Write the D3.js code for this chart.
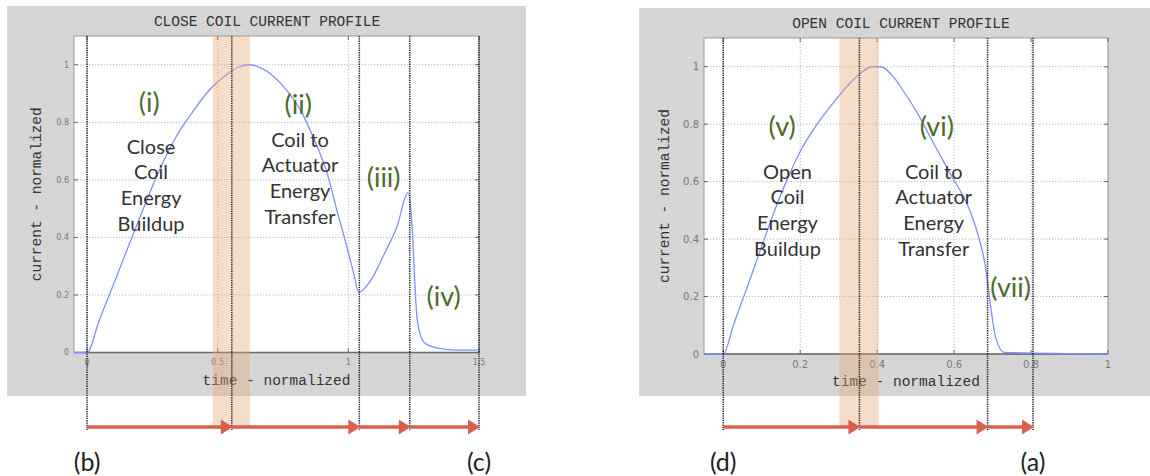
<!DOCTYPE html>
<html><head><meta charset="utf-8">
<script src="https://cdn.jsdelivr.net/npm/d3@7"></script>
<style>
html,body{margin:0;padding:0;background:#fff;}
svg{display:block;}
</style>
</head><body>
<svg id="c" width="1150" height="476"></svg>
<script>
// ---------- DATA ----------
const closeTitle = "CLOSE COIL CURRENT PROFILE";
const openTitle = "OPEN COIL CURRENT PROFILE";
const xLabel = "time - normalized";
const yLabel = "current - normalized";

const closeT = [-0.05, 0, 0.046, 0.097, 0.162, 0.213, 0.277, 0.341, 0.405, 0.469, 0.533, 0.585, 0.62, 0.674, 0.70, 0.751, 0.815, 0.867, 0.918, 0.956, 0.995, 1.021, 1.04, 1.085, 1.136, 1.187, 1.228, 1.245, 1.254, 1.264, 1.29, 1.341, 1.418, 1.5];
const closeI = [0, 0, 0.11, 0.227, 0.378, 0.494, 0.634, 0.75, 0.837, 0.913, 0.965, 0.994, 1.0, 0.985, 0.97, 0.925, 0.845, 0.745, 0.625, 0.495, 0.365, 0.273, 0.209, 0.25, 0.34, 0.44, 0.555, 0.423, 0.249, 0.11, 0.035, 0.015, 0.008, 0.008];

const openT = [-0.05, 0, 0.027, 0.062, 0.096, 0.131, 0.166, 0.2, 0.244, 0.287, 0.331, 0.365, 0.387, 0.409, 0.444, 0.47, 0.504, 0.548, 0.591, 0.635, 0.661, 0.682, 0.695, 0.708, 0.73, 1.0];
const openI = [0, 0, 0.103, 0.232, 0.36, 0.49, 0.607, 0.705, 0.8, 0.876, 0.945, 0.986, 1.0, 1.0, 0.962, 0.912, 0.84, 0.73, 0.625, 0.518, 0.42, 0.3, 0.165, 0.058, 0.006, 0.0];

const closeXTicks = [0, 0.5, 1, 1.5];
const closeXTickLabels = ["0", "0.5", "1", "1.5"];
const openXTicks = [0, 0.2, 0.4, 0.6, 0.8, 1];
const openXTickLabels = ["0", "0.2", "0.4", "0.6", "0.8", "1"];
const yTicks = [0, 0.2, 0.4, 0.6, 0.8, 1];
const yTickLabels = ["0", "0.2", "0.4", "0.6", "0.8", "1"];

const closeMarkers = [0, 0.554, 1.042, 1.235, 1.5];
const openMarkers = [0, 0.354, 0.687, 0.805];
const closeBand = [0.481, 0.623];
const openBand = [0.302, 0.404];

const closePhaseLabels = ["(i)", "(ii)", "(iii)", "(iv)"];
const closePhaseT = [0.238, 0.808, 1.135, 1.365];
const closePhaseI = [0.868, 0.861, 0.607, 0.193];
const closeTextBlocks = [["Close", "Coil", "Energy", "Buildup"], ["Coil to", "Actuator", "Energy", "Transfer"]];
const closeTextT = [0.245, 0.815];
const closeTextI = [0.715, 0.739];

const openPhaseLabels = ["(v)", "(vi)", "(vii)"];
const openPhaseT = [0.153, 0.555, 0.747];
const openPhaseI = [0.792, 0.792, 0.23];
const openTextBlocks = [["Open", "Coil", "Energy", "Buildup"], ["Coil to", "Actuator", "Energy", "Transfer"]];
const openTextT = [0.167, 0.547];
const openTextI = [0.634, 0.634];

const closeEndLabels = ["(b)", "(c)"];
const closeEndT = [0, 1.5];
const openEndLabels = ["(d)", "(a)"];
const openEndT = [0, 0.805];

// ---------- DRAW ----------
const svg = d3.select("#c");
const MONO = "'Liberation Mono','DejaVu Sans Mono',monospace";
const SANS = "Lato,'Open Sans',sans-serif";
const GREEN = "#4f6a2a";

function panel(o) {
  const g = svg.append("g");
  const x = d3.scaleLinear().domain(o.xDomain).range(o.xRange);
  const y = d3.scaleLinear().domain([0, 1.1]).range(o.yRange);
  const [x0, x1] = o.xRange, [yb, yt] = o.yRange;

  g.append("rect").attr("x", o.bg[0]).attr("y", o.bg[1]).attr("width", o.bg[2]).attr("height", o.bg[3]).attr("fill", "#d5d5d5");
  g.append("rect").attr("x", x0).attr("y", yt).attr("width", x1 - x0).attr("height", yb - yt).attr("fill", "#fff");

  g.selectAll(".gy").data(o.yTicks.filter(d => d > 0)).join("line")
    .attr("x1", x0).attr("x2", x1).attr("y1", d => y(d)).attr("y2", d => y(d))
    .attr("stroke", "#b5b5b5").attr("stroke-width", 1).attr("stroke-dasharray", "1.2,1.8");
  g.selectAll(".gx").data(o.xTicks).join("line")
    .attr("x1", d => x(d)).attr("x2", d => x(d)).attr("y1", yt).attr("y2", yb)
    .attr("stroke", "#b5b5b5").attr("stroke-width", 1).attr("stroke-dasharray", "1.2,1.8");

  g.append("rect").attr("x", x0).attr("y", yt).attr("width", x1 - x0).attr("height", yb - yt)
    .attr("fill", "none").attr("stroke", "#9a9a9a").attr("stroke-width", 1);
  g.append("line").attr("x1", x0).attr("x2", x1).attr("y1", yb).attr("y2", yb).attr("stroke", "#6a6a6a").attr("stroke-width", 1.6);

  const tl = 4;
  o.yTicks.forEach(d => {
    g.append("line").attr("x1", x0).attr("x2", x0 + tl).attr("y1", y(d)).attr("y2", y(d)).attr("stroke", "#666");
    g.append("line").attr("x1", x1).attr("x2", x1 - tl).attr("y1", y(d)).attr("y2", y(d)).attr("stroke", "#666");
  });
  o.xTicks.forEach(d => {
    g.append("line").attr("x1", x(d)).attr("x2", x(d)).attr("y1", yb).attr("y2", yb - tl).attr("stroke", "#666");
    g.append("line").attr("x1", x(d)).attr("x2", x(d)).attr("y1", yt).attr("y2", yt + tl).attr("stroke", "#666");
  });

  g.selectAll(".yl").data(o.yTicks).join("text")
    .attr("x", x0 - 5).attr("y", d => y(d)).attr("dy", "0.35em").attr("text-anchor", "end")
    .attr("font-family", "'DejaVu Sans',sans-serif").attr("font-size", o.tickFont).attr("fill", "#777")
    .text((d, i) => o.yTickLabels[i]);
  g.selectAll(".xl").data(o.xTicks).join("text")
    .attr("x", d => x(d)).attr("y", yb + o.tickFont + 4).attr("text-anchor", "middle")
    .attr("font-family", "'DejaVu Sans',sans-serif").attr("font-size", o.tickFont).attr("fill", "#777")
    .text((d, i) => o.xTickLabels[i]);

  g.append("text").attr("x", o.titleX).attr("y", yt - 10).attr("text-anchor", "middle")
    .attr("font-family", MONO).attr("font-size", 14.5).attr("fill", "#333").text(o.title);
  g.append("text").attr("x", (x0 + x1) / 2).attr("y", yb + 32).attr("text-anchor", "middle")
    .attr("font-family", MONO).attr("font-size", 14.5).attr("fill", "#333").text(xLabel);
  g.append("text").attr("transform", `translate(${o.yLabelX},${(yt + yb) / 2}) rotate(-90)`).attr("text-anchor", "middle")
    .attr("font-family", MONO).attr("font-size", 14.5).attr("fill", "#333").text(yLabel);

  const line = d3.line().x(d => x(d[0])).y(d => y(d[1])).curve(d3.curveMonotoneX);
  g.append("path").datum(o.t.map((t, i) => [t, o.v[i]])).attr("d", line)
    .attr("fill", "none").attr("stroke", "#7f8fff").attr("stroke-width", 1.3);

  const arrowY = 427;
  g.append("rect").attr("x", x(o.band[0])).attr("y", yt).attr("width", x(o.band[1]) - x(o.band[0])).attr("height", arrowY - yt)
    .attr("fill", "#e9a56f").attr("opacity", 0.38);

  g.selectAll(".mk").data(o.markers).join("line")
    .attr("x1", d => x(d)).attr("x2", d => x(d)).attr("y1", yt).attr("y2", arrowY + 3)
    .attr("stroke", "#222").attr("stroke-width", 1.5).attr("stroke-dasharray", "1.3,1");

  for (let i = 0; i < o.markers.length - 1; i++) {
    const a = x(o.markers[i]), b = x(o.markers[i + 1]);
    g.append("line").attr("x1", a).attr("x2", b - 8).attr("y1", arrowY).attr("y2", arrowY)
      .attr("stroke", "#d9604f").attr("stroke-width", 3.5);
    g.append("path").attr("d", `M${b + 1},${arrowY} L${b - 11},${arrowY - 7.5} L${b - 11},${arrowY + 7.5} Z`).attr("fill", "#d9604f");
  }

  g.selectAll(".ph").data(o.phaseLabels).join("text")
    .attr("x", (d, i) => x(o.phaseT[i])).attr("y", (d, i) => y(o.phaseI[i])).attr("dy", "0.35em")
    .attr("text-anchor", "middle").attr("font-family", SANS).attr("font-size", 27).attr("fill", GREEN).text(d => d);

  o.blocks.forEach((lines, bi) => {
    const t = g.append("text").attr("text-anchor", "middle").attr("font-family", SANS).attr("font-size", 20).attr("fill", "#333");
    lines.forEach((s, li) => {
      t.append("tspan").attr("x", x(o.blockT[bi])).attr("y", y(o.blockI[bi]) + li * 25.6).attr("dy", "0.35em").text(s);
    });
  });

  g.selectAll(".el").data(o.endLabels).join("text")
    .attr("x", (d, i) => x(o.endT[i])).attr("y", 471).attr("text-anchor", "middle")
    .attr("font-family", SANS).attr("font-size", 25).attr("fill", "#222").text(d => d);
}

panel({
  bg: [7, 6, 519, 390],
  xDomain: [-0.05, 1.5], xRange: [74, 479], yRange: [352.5, 36],
  xTicks: closeXTicks, xTickLabels: closeXTickLabels, yTicks: yTicks, yTickLabels: yTickLabels,
  tickFont: 8, title: closeTitle, titleX: 267, yLabelX: 41,
  t: closeT, v: closeI, band: closeBand, markers: closeMarkers,
  phaseLabels: closePhaseLabels, phaseT: closePhaseT, phaseI: closePhaseI,
  blocks: closeTextBlocks, blockT: closeTextT, blockI: closeTextI,
  endLabels: closeEndLabels, endT: closeEndT
});
panel({
  bg: [639, 8, 511, 388],
  xDomain: [-0.05, 1], xRange: [704, 1108], yRange: [354, 38],
  xTicks: openXTicks, xTickLabels: openXTickLabels, yTicks: yTicks, yTickLabels: yTickLabels,
  tickFont: 10, title: openTitle, titleX: 901, yLabelX: 669,
  t: openT, v: openI, band: openBand, markers: openMarkers,
  phaseLabels: openPhaseLabels, phaseT: openPhaseT, phaseI: openPhaseI,
  blocks: openTextBlocks, blockT: openTextT, blockI: openTextI,
  endLabels: openEndLabels, endT: openEndT
});
</script>
</body></html>
